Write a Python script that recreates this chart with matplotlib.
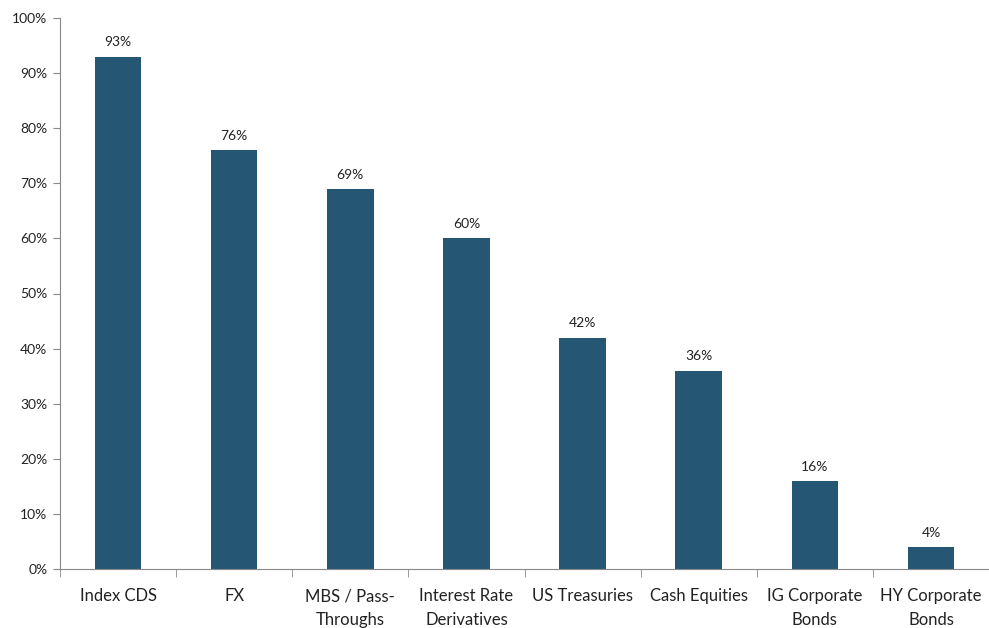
import matplotlib.pyplot as plt
import numpy as np

categories = ["Index CDS", "FX", "MBS / Pass-\nThroughs", "Interest Rate\nDerivatives",
              "US Treasuries", "Cash Equities", "IG Corporate\nBonds", "HY Corporate\nBonds"]
values = [93, 76, 69, 60, 42, 36, 16, 4]
y_ticks = [0, 10, 20, 30, 40, 50, 60, 70, 80, 90, 100]

plt.rcParams['font.family'] = ['Lato', 'DejaVu Sans']

fig = plt.figure(figsize=(9.89, 6.28), dpi=100)
ax = fig.add_axes([60 / 989, 59 / 628, 929 / 989, 551 / 628])

x = np.arange(len(categories))
bars = ax.bar(x, values, width=0.4, color="#255774", zorder=2)

# value labels over the bars
for xi, v in zip(x, values):
    ax.text(xi, v + 1.5, f"{v}%", ha="center", va="bottom", fontsize=10, color="#222222")

ax.set_xlim(-0.5, len(categories) - 0.5)
ax.set_ylim(0, 100)
ax.set_yticks(y_ticks)
ax.set_yticklabels([f"{t}%" for t in y_ticks], fontsize=10, color="#222222")

ax.set_xticks(x)
ax.set_xticklabels(categories, fontsize=12, color="#222222", linespacing=1.6)
ax.tick_params(axis="x", which="major", length=0, pad=14)
ax.set_xticks(np.arange(-0.5, len(categories)), minor=True)
ax.tick_params(axis="x", which="minor", length=6, color="#888888")
ax.tick_params(axis="y", length=5, color="#888888", pad=4)

for side in ["top", "right"]:
    ax.spines[side].set_visible(False)
for side in ["left", "bottom"]:
    ax.spines[side].set_color("#888888")

fig.savefig("out.png", dpi=100)
